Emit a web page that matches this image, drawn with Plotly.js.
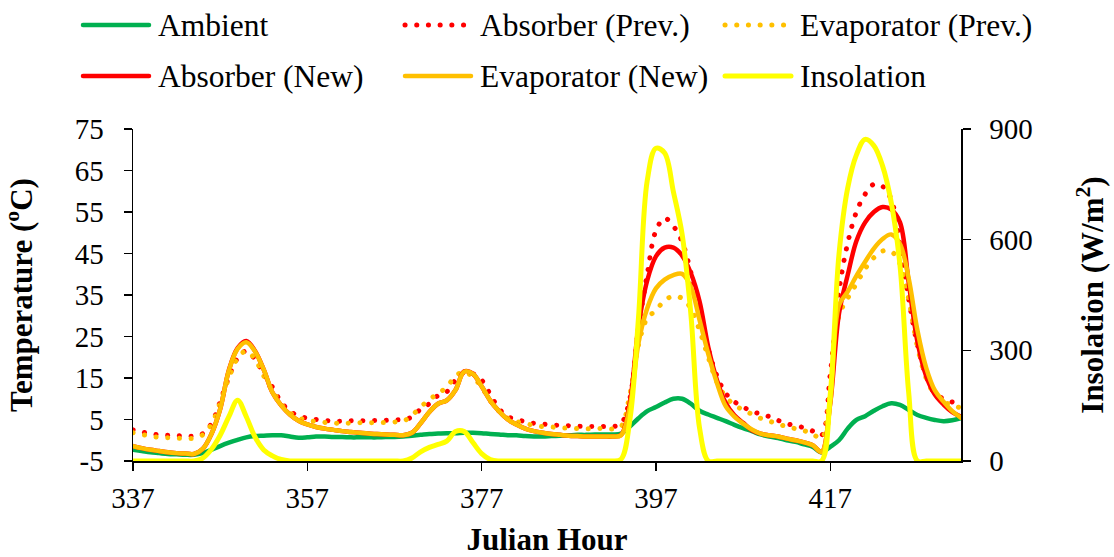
<!DOCTYPE html>
<html>
<head>
<meta charset="utf-8">
<script src="https://cdn.plot.ly/plotly-3.0.1.min.js"></script>
<style>
  html, body { margin: 0; padding: 0; background: #ffffff; }
  #chart { width: 1114px; height: 557px; }
  /* round caps turn the short dashes into round dots */
  .js-line, .shapelayer path { stroke-linecap: round; stroke-linejoin: round; }
</style>
</head>
<body>
<div id="chart"></div>
<script>
// Julian hour of each reading
const hours = [
  337, 338, 339, 340, 341, 342, 343, 344, 345, 346, 347, 348, 349, 350, 351, 352,
  353, 354, 355, 356, 357, 358, 359, 360, 361, 362, 363, 364, 365, 366, 367, 368,
  369, 370, 371, 372, 373, 374, 375, 376, 377, 378, 379, 380, 381, 382, 383, 384,
  385, 386, 387, 388, 389, 390, 391, 392, 393, 394, 395, 396, 397, 398, 399, 400,
  401, 402, 403, 404, 405, 406, 407, 408, 409, 410, 411, 412, 413, 414, 415, 416,
  417, 418, 419, 420, 421, 422, 423, 424, 425, 426, 427, 428, 429, 430, 431, 432
];

// Temperatures (°C)
const ambient = [
  -2.3, -2.6, -2.9, -3.1, -3.3, -3.4, -3.5, -3.5, -3.1, -2.3, -1.4, -0.6, 0.1, 0.7, 1.0, 1.1,
  1.2, 1.2, 0.9, 0.6, 0.7, 0.9, 0.9, 0.8, 0.8, 0.7, 0.7, 0.7, 0.7, 0.8, 0.8, 0.9,
  1.1, 1.3, 1.5, 1.6, 1.7, 1.7, 1.8, 1.8, 1.7, 1.5, 1.4, 1.2, 1.2, 1.0, 0.9, 0.9,
  1.0, 1.1, 1.2, 1.3, 1.3, 1.4, 1.4, 1.4, 1.6, 3.3, 5.3, 7.0, 8.0, 9.1, 10.0, 10.0,
  8.8, 7.1, 6.2, 5.4, 4.6, 3.7, 2.9, 2.2, 1.4, 0.9, 0.55, 0.0, -0.4, -1.0, -1.6, -2.9,
  -1.6, 0.0, 2.8, 4.9, 5.8, 7.1, 8.2, 8.9, 8.5, 7.3, 6.1, 5.4, 4.9, 4.6, 4.8, 5.3
];

const absorberPrev = [
  2.5, 2.0, 1.6, 1.3, 1.2, 1.1, 1.0, 1.0, 1.6, 4.0, 9.3, 15.3, 19.8, 21.5, 19.5, 16.0,
  12.8, 9.2, 7.0, 5.9, 5.3, 5.0, 4.8, 4.6, 4.6, 4.7, 4.7, 4.7, 4.8, 4.8, 4.9, 5.0,
  5.6, 7.5, 8.8, 10.8, 11.7, 14.5, 16.3, 16.0, 14.5, 11.0, 7.6, 5.7, 5.0, 4.5, 4.1, 3.9,
  3.7, 3.6, 3.5, 3.4, 3.3, 3.3, 3.3, 3.3, 4.0, 10.0, 27.0, 40.0, 50.5, 53.5, 51.6, 47.8,
  40.5, 31.0, 22.0, 15.5, 11.3, 9.3, 8.0, 7.0, 6.3, 5.7, 4.8, 4.0, 3.5, 3.0, 2.2, 1.2,
  16.0, 36.0, 47.5, 55.0, 59.3, 61.7, 61.2, 58.0, 47.0, 34.0, 23.0, 15.5, 11.3, 10.0, 9.2, 8.7
];

const evaporatorPrev = [
  1.8, 1.4, 1.0, 0.7, 0.6, 0.5, 0.4, 0.5, 1.3, 3.8, 9.0, 15.0, 19.8, 21.5, 19.5, 15.5,
  12.0, 8.7, 6.6, 5.4, 4.8, 4.5, 4.3, 4.1, 4.1, 4.1, 4.2, 4.2, 4.2, 4.3, 4.4, 4.6,
  6.0, 8.0, 9.8, 11.3, 12.8, 15.5, 16.5, 15.2, 12.8, 9.5, 7.0, 5.3, 4.5, 4.0, 3.6, 3.3,
  3.2, 3.0, 2.9, 2.8, 2.8, 2.8, 2.8, 2.7, 3.3, 11.0, 23.0, 29.4, 31.3, 33.7, 34.7, 34.2,
  31.8, 26.5, 20.0, 14.0, 10.5, 8.5, 7.3, 6.3, 5.3, 4.6, 3.9, 3.3, 2.8, 2.3, 1.5, 0.4,
  12.0, 30.0, 34.2, 37.7, 41.3, 44.0, 45.6, 45.5, 42.5, 34.0, 22.5, 15.0, 11.0, 9.3, 8.4, 7.8
];

const absorberNew = [
  -1.4, -1.9, -2.3, -2.6, -2.9, -3.1, -3.2, -3.3, -2.1, 1.5, 7.5, 16.9, 22.2, 23.9, 21.5, 17.0,
  11.5, 8.4, 6.2, 4.7, 3.8, 3.2, 2.8, 2.5, 2.2, 2.0, 1.8, 1.6, 1.5, 1.4, 1.3, 1.2,
  1.8, 4.1, 6.8, 8.8, 9.6, 12.1, 16.6, 16.0, 13.0, 9.5, 7.0, 5.0, 3.8, 2.8, 2.2, 1.8,
  1.5, 1.3, 1.1, 1.0, 0.9, 0.9, 0.9, 0.9, 1.3, 9.0, 27.5, 38.5, 44.3, 46.4, 46.4, 44.5,
  40.3, 33.5, 22.5, 14.5, 9.0, 6.0, 4.2, 2.4, 1.6, 1.2, 0.9, 0.4, 0.0, -0.5, -1.2, -2.8,
  9.0, 30.5, 39.8, 48.0, 52.5, 55.0, 56.2, 55.6, 52.5, 38.0, 23.8, 15.5, 11.0, 8.6, 6.8, 5.7
];

const evaporatorNew = [
  -1.4, -1.9, -2.3, -2.6, -2.9, -3.1, -3.2, -3.3, -2.1, 1.5, 7.5, 16.8, 22.0, 23.6, 21.4, 17.0,
  11.5, 8.4, 6.2, 4.7, 3.8, 3.2, 2.8, 2.5, 2.2, 2.0, 1.8, 1.6, 1.5, 1.4, 1.3, 1.2,
  1.8, 4.1, 6.8, 8.8, 9.6, 12.1, 16.5, 16.0, 13.0, 9.5, 7.0, 5.0, 3.8, 2.8, 2.2, 1.8,
  1.5, 1.3, 1.1, 1.0, 0.9, 0.9, 0.9, 0.9, 1.2, 8.0, 23.5, 31.8, 36.6, 38.7, 39.8, 40.1,
  37.0, 29.0, 20.8, 13.8, 8.2, 5.7, 4.0, 2.6, 1.6, 1.2, 0.9, 0.4, 0.0, -0.5, -1.2, -2.8,
  9.0, 32.5, 35.8, 39.6, 43.0, 46.2, 48.5, 49.6, 47.3, 39.0, 26.5, 17.5, 12.0, 9.3, 7.0, 5.4
];

// Solar insolation (W/m²)
const insolation = [
  0, 0, 0, 0, 0, 0, 0, 0, 8, 32, 70, 120, 165, 120, 65, 30,
  14, 4, 0, 0, 0, 0, 0, 0, 0, 0, 0, 0, 0, 0, 0, 0,
  8, 25, 37, 45, 54, 80, 80, 50, 20, 4, 0, 0, 0, 0, 0, 0,
  0, 0, 0, 0, 0, 0, 0, 0, 5, 110, 390, 760, 848, 835, 730, 615,
  400, 90, 0, 0, 0, 0, 0, 0, 0, 0, 0, 0, 0, 0, 0, 0,
  180, 560, 740, 830, 872, 855, 800, 700, 530, 185, 0, 0, 0, 0, 0, 0
];

const seriesNames = ['Ambient', 'Absorber (Prev.)', 'Evaporator (Prev.)',
                     'Absorber (New)', 'Evaporator (New)', 'Insolation'];

const xTickVals = [337, 357, 377, 397, 417];
const xTickText = ['337', '357', '377', '397', '417'];
const tempTickVals = [-5, 5, 15, 25, 35, 45, 55, 65, 75];
const tempTickText = ['-5', '5', '15', '25', '35', '45', '55', '65', '75'];
const insolTickVals = [0, 300, 600, 900];
const insolTickText = ['0', '300', '600', '900'];

// ---- styling ----
const GREEN = '#00B050', RED = '#FF0000', ORANGE = '#FFC000', YELLOW = '#FFFF00';
const DOTS = '0.1px,11.6px';
const styles = [
  { color: GREEN,  width: 4.5, dash: 'solid' },
  { color: RED,    width: 5,   dash: DOTS },
  { color: ORANGE, width: 5,   dash: DOTS },
  { color: RED,    width: 4.5, dash: 'solid' },
  { color: ORANGE, width: 4.5, dash: 'solid' },
  { color: YELLOW, width: 5,   dash: 'solid' }
];
const values = [ambient, absorberPrev, evaporatorPrev, absorberNew, evaporatorNew, insolation];

const traces = values.map((ys, i) => ({
  type: 'scatter',
  mode: 'lines',
  name: seriesNames[i],
  x: hours,
  y: ys,
  yaxis: i === 5 ? 'y2' : 'y',
  line: { color: styles[i].color, width: styles[i].width, dash: styles[i].dash,
          shape: 'spline', smoothing: 1 },
  hoverinfo: 'skip'
}));

// ---- hand-built legend (3 columns x 2 rows) ----
const W = 1114, H = 557;
const M = { l: 133, r: 153, t: 129, b: 96 };
const plotW = W - M.l - M.r, plotH = H - M.t - M.b;
const px2x = px => (px - M.l) / plotW;
const px2y = py => (H - M.b - py) / plotH;

const legendCols = [81, 403, 723];
const legendRows = [25, 76];
const swatchLen = 68;
const textGap = 75;

const shapes = [];
const annotations = [];
seriesNames.forEach((name, i) => {
  const col = i % 3, row = Math.floor(i / 3);
  const x0 = legendCols[col], y = legendRows[row];
  shapes.push({
    type: 'line', xref: 'paper', yref: 'paper',
    x0: px2x(x0 + 2), x1: px2x(x0 + swatchLen), y0: px2y(y), y1: px2y(y),
    line: { color: styles[i].color, width: styles[i].width, dash: styles[i].dash }
  });
  annotations.push({
    xref: 'paper', yref: 'paper', x: px2x(x0 + textGap), y: px2y(y),
    xanchor: 'left', yanchor: 'middle', showarrow: false,
    text: name, font: { size: 31.5, color: '#000' }
  });
});

const axisCommon = {
  showline: true, linecolor: '#000', linewidth: 1.5,
  ticks: 'outside', ticklen: 8, tickwidth: 1.5, tickcolor: '#000',
  showgrid: false, zeroline: false, tickmode: 'array',
  tickfont: { size: 29, color: '#000' }
};

const layout = {
  width: W, height: H,
  margin: M,
  paper_bgcolor: '#ffffff', plot_bgcolor: '#ffffff',
  showlegend: false,
  font: { family: '"Liberation Serif", "Times New Roman", serif', color: '#000' },
  xaxis: Object.assign({}, axisCommon, {
    range: [337, 432], tickvals: xTickVals, ticktext: xTickText,
    layer: 'below traces', ticklabelstandoff: 3,
    title: { text: '<b>Julian Hour</b>', font: { size: 31 }, standoff: 21 }
  }),
  yaxis: Object.assign({}, axisCommon, {
    range: [-5, 75], tickvals: tempTickVals, ticktext: tempTickText,
    ticklabelstandoff: 14,
    title: { text: '<b>Temperature (<sup>o</sup>C)</b>', font: { size: 31 }, standoff: 34 }
  }),
  yaxis2: Object.assign({}, axisCommon, {
    overlaying: 'y', side: 'right', anchor: 'x',
    range: [0, 900], tickvals: insolTickVals, ticktext: insolTickText,
    ticklabelstandoff: 13,
    title: { text: '<b>Insolation (W/m<sup>2</sup>)</b>', font: { size: 31 }, standoff: 49 }
  }),
  shapes: shapes,
  annotations: annotations
};

Plotly.newPlot('chart', traces, layout, { staticPlot: true, displayModeBar: false });
</script>
</body>
</html>
